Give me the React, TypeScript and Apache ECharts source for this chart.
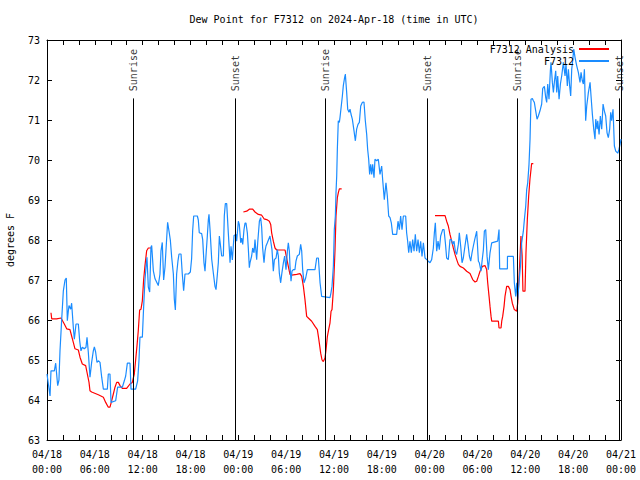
import React, { useEffect, useRef } from 'react';
import * as echarts from 'echarts';

const TITLE = 'Dew Point for F7312 on 2024-Apr-18 (time in UTC)';
const Y_NAME = 'degrees F';
const OBS_NAME = 'F7312';
const ANA_NAME = 'F7312 Analysis';
const FONT = '"DejaVu Sans Mono", "Liberation Mono", monospace';

// hours since 2024-04-18 00:00 UTC
const obsHours = [
  0.0, 0.17, 0.38, 0.5, 0.92, 1.09, 1.34, 1.5, 1.63, 1.84, 2.05, 2.26, 2.42, 2.55, 2.68, 2.76, 2.97, 3.09, 3.3, 3.43,
  3.64, 3.93, 4.1, 4.26, 4.43, 4.68, 4.89, 5.02, 5.18, 5.39, 5.6, 5.81, 5.94, 6.1, 6.27, 6.44, 6.65, 6.86, 7.07, 7.57,
  7.69, 7.9, 8.03, 8.61, 8.86, 9.45, 9.7, 9.87, 10.08, 10.41, 10.54, 11.12, 11.37, 11.54, 11.66, 11.96, 12.12, 12.29, 12.42, 12.54,
  12.71, 12.88, 13.04, 13.13, 13.34, 13.55, 13.96, 14.17, 14.3, 14.46, 14.63, 14.8, 15.0, 15.13, 15.3, 15.47, 15.64, 15.85, 15.97, 16.1,
  16.26, 16.43, 16.56, 16.81, 16.97, 17.14, 17.31, 17.73, 17.98, 18.14, 18.27, 18.4, 18.86, 18.98, 19.1, 19.4, 19.53, 19.69, 19.82, 19.94,
  20.11, 20.24, 20.32, 20.45, 20.66, 20.86, 21.07, 21.2, 21.37, 21.49, 21.62, 21.7, 21.91, 22.12, 22.24, 22.37, 22.54, 22.74, 22.87, 22.96,
  23.08, 23.25, 23.46, 23.71, 23.79, 24.0, 24.12, 24.3, 24.42, 24.55, 24.71, 24.84, 24.96, 25.13, 25.25, 25.38, 25.46, 25.67, 25.8, 25.97,
  26.09, 26.3, 26.43, 26.64, 26.8, 26.93, 27.05, 27.22, 27.35, 27.47, 27.64, 27.97, 28.22, 28.39, 28.52, 28.73, 28.89, 29.02, 29.14, 29.31,
  29.44, 29.65, 29.81, 29.98, 30.15, 30.27, 30.4, 30.48, 30.61, 30.73, 30.9, 31.1, 31.23, 31.4, 31.65, 31.82, 31.95, 32.07, 32.24, 32.45,
  32.66, 33.62, 33.83, 34.04, 34.25, 34.45, 35.5, 35.62, 35.75, 35.92, 36.04, 36.17, 36.25, 36.34, 36.42, 36.54, 36.67, 36.75, 37.05, 37.17,
  37.3, 37.42, 37.59, 37.72, 37.88, 38.01, 38.13, 38.3, 38.51, 38.68, 38.84, 39.01, 39.18, 39.35, 39.55, 39.76, 39.93, 40.1, 40.22, 40.35,
  40.47, 40.6, 40.73, 40.85, 41.02, 41.14, 41.35, 41.56, 41.77, 41.98, 42.1, 42.31, 42.52, 42.69, 42.86, 43.03, 43.19, 43.36, 43.86, 44.03,
  44.2, 44.36, 44.53, 44.7, 44.99, 45.11, 45.24, 45.37, 45.53, 45.7, 45.87, 46.04, 46.2, 46.37, 46.54, 46.71, 46.87, 47.04, 47.21, 47.42,
  47.63, 47.83, 48.04, 48.25, 48.46, 48.59, 48.71, 48.88, 49.05, 49.21, 49.38, 49.63, 49.8, 49.97, 50.13, 50.34, 50.55, 50.72, 50.89, 51.05,
  51.22, 51.39, 51.6, 51.72, 51.89, 52.06, 52.22, 52.43, 52.64, 52.81, 52.98, 53.15, 53.31, 53.48, 53.65, 53.9, 54.11, 54.23, 54.44, 54.55,
  54.74, 54.86, 55.03, 55.2, 55.36, 55.57, 55.78, 56.53, 56.7, 56.78, 57.75, 57.76, 58.5, 58.62, 58.79, 58.92, 59.04, 59.21, 59.38, 59.54,
  59.75, 59.88, 60.05, 60.17, 60.3, 60.46, 60.59, 60.71, 60.88, 61.01, 61.13, 61.3, 61.47, 61.63, 61.84, 62.05, 62.18, 62.39, 62.56, 62.68,
  62.81, 62.97, 63.14, 63.22, 63.39, 63.52, 63.64, 63.81, 63.94, 64.06, 64.23, 64.4, 64.56, 64.77, 64.98, 65.1, 65.27, 65.4, 65.56, 65.69,
  65.82, 65.94, 66.07, 66.24, 66.44, 66.65, 66.86, 66.99, 67.15, 67.28, 67.41, 67.57, 67.7, 67.91, 68.12, 68.24, 68.41, 68.58, 68.74, 68.83,
  69.0, 69.08, 69.25, 69.41, 69.58, 69.75, 69.91, 70.08, 70.25, 70.41, 70.58, 70.71, 70.83, 71.0, 71.17, 71.34, 71.59, 71.75, 71.88, 72.0,
];

const obsValues = [
  64.65, 64.4, 64.1, 64.73, 64.73, 64.92, 64.36, 64.5, 65.23, 66.0, 66.73, 67.0, 67.05, 65.98, 66.23, 66.36, 66.27, 66.42, 65.82, 65.52,
  65.9, 65.9, 65.48, 65.23, 65.32, 65.28, 65.32, 65.57, 65.2, 64.57, 64.94, 65.23, 65.33, 65.2, 64.94, 64.98, 64.94, 64.57, 64.27, 64.27,
  64.65, 64.65, 63.94, 63.98, 64.32, 64.32, 64.48, 64.6, 64.92, 64.92, 64.27, 64.27, 64.48, 65.0, 65.57, 65.57, 66.32, 67.0, 67.32, 67.57,
  66.82, 66.7, 67.82, 67.86, 67.23, 67.03, 66.86, 67.15, 67.73, 67.94, 67.0, 67.32, 68.0, 68.44, 68.23, 68.0, 67.57, 67.15, 66.52, 66.25,
  67.15, 67.48, 67.65, 67.65, 67.15, 66.73, 67.15, 67.15, 67.2, 67.53, 68.23, 68.6, 68.6, 68.5, 68.18, 68.16, 68.01, 67.43, 67.22, 67.6,
  68.1, 68.51, 68.64, 68.26, 67.52, 67.18, 66.84, 66.76, 67.14, 67.43, 68.1, 67.97, 67.6, 67.6, 68.6, 68.91, 68.91, 68.18, 67.76, 67.43,
  67.84, 67.5, 68.11, 68.14, 67.97, 68.47, 68.39, 67.93, 68.05, 67.89, 68.26, 68.42, 68.42, 68.18, 67.8, 67.31, 67.43, 67.6, 67.8, 67.68,
  68.01, 67.51, 67.93, 68.47, 68.56, 68.31, 67.8, 67.43, 67.72, 67.85, 67.93, 68.1, 67.76, 67.22, 67.51, 67.55, 67.76, 67.6, 67.18, 66.93,
  67.14, 67.43, 67.6, 67.26, 67.72, 67.93, 67.72, 67.34, 66.97, 67.22, 67.26, 67.26, 67.47, 67.6, 67.64, 67.89, 67.72, 67.26, 66.93, 67.05,
  67.26, 67.26, 67.55, 67.55, 66.93, 66.59, 66.56, 66.68, 66.84, 67.34, 68.26, 68.6, 69.18, 69.6, 70.27, 70.98, 70.94, 71.06, 71.6, 71.86,
  72.02, 72.15, 71.69, 71.27, 71.19, 71.27, 71.15, 71.02, 70.73, 70.48, 70.77, 70.89, 70.94, 71.35, 71.44, 71.45, 70.98, 70.64, 70.27, 70.02,
  69.64, 69.89, 69.64, 69.89, 69.56, 70.02, 69.98, 70.02, 69.64, 69.85, 69.52, 69.01, 69.43, 69.1, 68.6, 68.56, 68.43, 68.14, 68.14, 68.47,
  68.26, 68.6, 68.26, 68.6, 68.6, 68.18, 67.97, 67.68, 67.97, 67.68, 68.01, 67.72, 68.14, 67.72, 68.01, 67.68, 67.97, 67.59, 67.93, 67.55,
  67.51, 67.47, 67.43, 67.51, 67.8, 68.18, 68.43, 67.72, 67.97, 67.76, 68.1, 68.26, 68.26, 67.93, 67.55, 67.51, 68.01, 68.01, 67.89, 67.97,
  67.72, 67.64, 67.89, 68.18, 67.85, 67.43, 67.55, 67.85, 68.14, 67.89, 67.6, 67.47, 67.68, 67.85, 68.01, 68.22, 67.47, 67.43, 67.22, 67.43,
  67.76, 68.22, 68.26, 67.59, 67.26, 67.68, 67.93, 67.97, 68.26, 67.28, 67.28, 67.59, 67.59, 66.93, 66.59, 66.93, 66.51, 66.93, 67.34, 67.93,
  68.22, 68.51, 68.85, 69.26, 69.43, 69.89, 70.52, 71.52, 71.54, 71.48, 71.44, 71.23, 71.02, 71.1, 71.23, 71.4, 71.79, 71.84, 71.56, 71.44,
  71.9, 71.52, 72.23, 72.44, 71.94, 71.69, 71.94, 72.23, 71.69, 72.1, 71.52, 71.9, 72.1, 72.44, 72.1, 72.4, 71.85, 72.27, 71.85, 71.6,
  72.27, 72.48, 72.77, 72.56, 72.36, 72.19, 71.94, 72.19, 71.98, 71.9, 72.27, 70.98, 71.35, 71.69, 71.94, 71.6, 71.14, 70.77, 70.52, 71.02,
  70.77, 70.98, 70.64, 71.1, 70.77, 71.4, 71.23, 71.1, 70.68, 70.56, 70.77, 71.19, 70.98, 71.27, 70.35, 70.22, 70.17, 70.27, 70.39, 70.52,
];

// analysis series; '-' marks a gap in the record
const anaHours = [
  0.5, 0.59, 1.21, 1.76, 2.17, 2.47, 2.88, 3.09, 3.3, 3.51, 3.93, 4.14, 4.43, 4.85, 5.06, 5.27, 5.39, 5.6, 6.44, 7.07,
  7.36, 7.69, 7.9, 8.11, 8.32, 8.53, 8.74, 8.95, 9.16, 9.45, 9.99, 10.41, 10.7, 10.95, 11.12, 11.29, 11.45, 11.62, 11.79, 11.96,
  12.12, 12.29, 12.5, 12.71, 13.04,
  18.0,
  24.63, 25.05, 25.38, 25.8, 26.09, 26.51, 26.93, 27.22, 27.56, 27.89, 28.06, 28.18, 28.39, 28.6, 28.81, 29.86, 30.06, 30.27, 30.48, 30.69,
  31.32, 31.74, 31.95, 32.16, 32.36, 32.57, 32.78, 33.2, 33.62, 33.91, 34.04, 34.16, 34.33, 34.5, 34.66, 34.87, 35.0, 35.17, 35.33, 35.5,
  35.63, 35.75, 35.92, 36.13, 36.25, 36.42, 36.54, 36.67, 36.96,
  42.0,
  48.67, 49.93, 50.13, 50.34, 50.55, 50.76, 50.97, 51.18, 51.39, 51.6, 51.81, 52.23, 52.64, 53.06, 53.4, 53.69, 53.9, 54.11, 54.32, 54.61,
  54.94, 55.15, 55.28, 55.45, 55.57, 55.7, 55.78, 56.62, 56.7, 56.95, 57.04, 57.16, 57.33, 57.45, 57.66, 57.87, 58.08, 58.21, 58.37, 58.62,
  58.92, 59.04, 59.24, 59.45, 59.6, 59.7, 59.96, 60.08, 60.25, 60.42, 60.58, 60.79, 61.0,
];

const anaValues: (number | string)[] = [
  66.18, 66.03, 66.03, 66.05, 65.9, 65.78, 65.76, 65.6, 65.44, 65.28, 65.25, 65.07, 64.9, 64.86, 64.65, 64.44, 64.23, 64.2, 64.13, 64.07,
  63.94, 63.82, 63.82, 63.98, 64.15, 64.32, 64.44, 64.44, 64.36, 64.29, 64.29, 64.4, 64.44, 64.65, 65.0, 65.36, 65.73, 66.25, 66.27, 66.48,
  67.0, 67.36, 67.73, 67.8, 67.8,
  '-',
  68.7, 68.72, 68.77, 68.77, 68.7, 68.64, 68.62, 68.53, 68.51, 68.47, 68.39, 68.18, 67.97, 67.8, 67.75, 67.75, 67.55, 67.34, 67.14, 67.12,
  67.14, 67.16, 67.09, 66.84, 66.51, 66.09, 66.05, 65.97, 65.84, 65.76, 65.59, 65.42, 65.17, 65.0, 64.96, 65.05, 65.26, 65.59, 65.76, 65.93,
  66.22, 66.26, 66.75, 67.76, 68.6, 69.06, 69.18, 69.28, 69.28,
  '-',
  68.61, 68.61, 68.47, 68.35, 68.14, 67.97, 67.8, 67.64, 67.51, 67.39, 67.34, 67.3, 67.22, 67.16, 67.01, 66.95, 66.97, 67.09, 67.22, 67.34,
  67.36, 67.26, 66.93, 66.59, 66.34, 66.09, 65.97, 65.97, 65.8, 65.8, 65.97, 66.09, 66.34, 66.59, 66.84, 66.84, 66.76, 66.59, 66.42, 66.26,
  66.22, 66.42, 67.18, 68.1, 67.6, 66.72, 66.72, 67.68, 68.51, 69.1, 69.52, 69.91, 69.91,
];

const sunHours = [10.83, 23.62, 34.91, 47.7, 58.99, 71.79];
const sunLabels = ['Sunrise', 'Sunset', 'Sunrise', 'Sunset', 'Sunrise', 'Sunset'];
const SUN_LINE_TOP = 71.54;
const SUN_LABEL_BASE = 71.72;

const X_MIN = 0;
const X_MAX = 72;
const Y_MIN = 63;
const Y_MAX = 73;

function fmtX(v: number): string {
  const day = 18 + Math.floor(v / 24);
  const hh = Math.round(v % 24);
  return `04/${day}\n${String(hh).padStart(2, '0')}:00`;
}

export default function App() {
  const ref = useRef<HTMLDivElement>(null);

  useEffect(() => {
    document.body.style.margin = '0';
    if (!ref.current) return;
    const chart = echarts.init(ref.current, null, { renderer: 'svg' });

    const obsData = obsHours.map((h, i) => [h, obsValues[i]]);
    const anaData = anaHours.map((h, i) => [h, anaValues[i]]);
    const sunData = sunHours.map((h, i) => [h, SUN_LABEL_BASE, sunLabels[i]]);
    const sunLines = sunHours.map((h) => [{ coord: [h, Y_MIN] }, { coord: [h, SUN_LINE_TOP] }]);

    const axisCommon = {
      axisLine: { show: true, onZero: false, lineStyle: { color: '#000', width: 1 } },
      splitLine: { show: false },
    };

    const option: any = {
      animation: false,
      backgroundColor: '#fff',
      textStyle: { fontFamily: FONT },
      graphic: [
        {
          type: 'text',
          x: 334,
          y: 19,
          style: {
            text: TITLE,
            fontFamily: FONT,
            fontSize: 10,
            fill: '#000',
            textAlign: 'center',
            textVerticalAlign: 'middle',
          },
        },
      ],
      grid: { left: 47, right: 19, top: 40, bottom: 40, containLabel: false, outerBoundsMode: 'none' },
      legend: {
        data: [ANA_NAME, OBS_NAME],
        orient: 'vertical',
        right: 30,
        top: 44,
        align: 'right',
        itemWidth: 30,
        itemHeight: 10,
        itemGap: 2,
        padding: 0,
        itemStyle: { opacity: 0 },
        textStyle: { fontFamily: FONT, fontSize: 10, color: '#000' },
      },
      xAxis: [
        {
          type: 'value',
          min: X_MIN,
          max: X_MAX,
          interval: 6,
          position: 'bottom',
          ...axisCommon,
          axisTick: { show: true, inside: true, length: 5, lineStyle: { color: '#000' } },
          minorTick: { show: true, splitNumber: 3, length: 5, lineStyle: { color: '#000' } },
          minorSplitLine: { show: false },
          axisLabel: {
            formatter: fmtX,
            fontFamily: FONT,
            fontSize: 10,
            color: '#000',
            lineHeight: 15,
            margin: 7,
            showMinLabel: true,
            showMaxLabel: true,
          },
        },
        {
          type: 'value',
          min: X_MIN,
          max: X_MAX,
          interval: 6,
          position: 'top',
          ...axisCommon,
          axisTick: { show: true, inside: true, length: 5, lineStyle: { color: '#000' } },
          minorTick: { show: true, splitNumber: 3, length: 5, lineStyle: { color: '#000' } },
          axisLabel: { show: false },
        },
      ],
      yAxis: [
        {
          type: 'value',
          min: Y_MIN,
          max: Y_MAX,
          interval: 1,
          position: 'left',
          name: Y_NAME,
          nameLocation: 'middle',
          nameGap: 32,
          nameTextStyle: { fontFamily: FONT, fontSize: 10, color: '#000' },
          ...axisCommon,
          axisTick: { show: true, inside: true, length: 5, lineStyle: { color: '#000' } },
          axisLabel: { fontFamily: FONT, fontSize: 10, color: '#000', margin: 7 },
        },
        {
          type: 'value',
          min: Y_MIN,
          max: Y_MAX,
          interval: 1,
          position: 'right',
          ...axisCommon,
          axisTick: { show: true, inside: true, length: 5, lineStyle: { color: '#000' } },
          axisLabel: { show: false },
        },
      ],
      series: [
        {
          name: ANA_NAME,
          type: 'line',
          data: anaData,
          showSymbol: false,
          symbol: 'none',
          connectNulls: false,
          lineStyle: { color: '#ff0000', width: 1.2 },
          itemStyle: { color: '#ff0000' },
          z: 2,
        },
        {
          name: OBS_NAME,
          type: 'line',
          data: obsData,
          showSymbol: false,
          symbol: 'none',
          lineStyle: { color: '#1a8cff', width: 1.2 },
          itemStyle: { color: '#1a8cff' },
          z: 3,
        },
        {
          name: 'sun',
          type: 'scatter',
          data: sunData,
          symbolSize: 0,
          silent: true,
          z: 4,
          label: {
            show: true,
            position: 'inside',
            rotate: 90,
            align: 'left',
            verticalAlign: 'middle',
            formatter: (p: any) => p.data[2],
            fontFamily: FONT,
            fontSize: 10,
            color: '#000',
          },
          markLine: {
            silent: true,
            symbol: ['none', 'none'],
            label: { show: false },
            lineStyle: { color: '#000', width: 1, type: 'solid' },
            data: sunLines,
          },
        },
      ],
    };

    chart.setOption(option);
    return () => chart.dispose();
  }, []);

  return <div ref={ref} style={{ width: 640, height: 480 }} />;
}
